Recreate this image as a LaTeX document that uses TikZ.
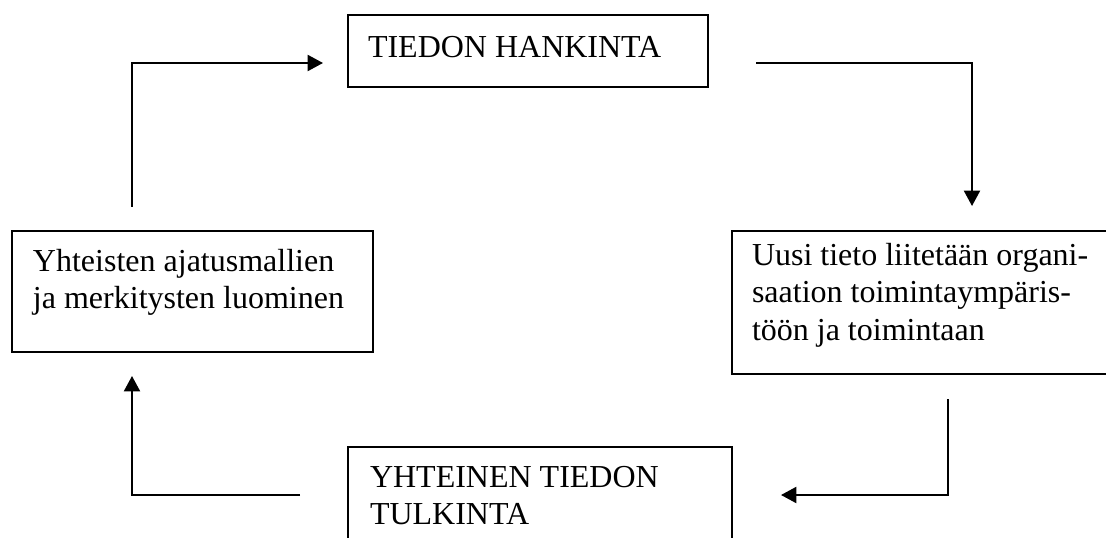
\documentclass[tikz,border=0pt]{standalone}
\usepackage{fontspec}
\setmainfont{Liberation Serif}
\usetikzlibrary{arrows.meta}
\newcommand\bxtext[5]{\parbox[t][#2][t]{#1}{\leftskip=#3\relax\parindent=0pt\vspace*{#4}\strut #5}}
\tikzset{
  procbox/.style={draw=black, line width=1.5pt, inner sep=0pt, outer sep=0pt, anchor=north west},
  flow/.style={line width=1.5pt, -{Triangle[length=11.5pt,width=12pt]}},
}
\begin{document}
\begin{tikzpicture}[x=0.75pt,y=-0.75pt,font=\fontsize{24}{28}\selectfont]
\clip (0,0) rectangle (1106,538);
\fill[white] (0,0) rectangle (1106,538);
% boxes
\node[procbox] (top) at (348,15) {\bxtext{270pt}{54pt}{15pt}{12.5pt}{TIEDON HANKINTA}};
\node[procbox] (left) at (12,231) {\bxtext{270.75pt}{90.75pt}{15.75pt}{10.6pt}{Yhteisten ajatusmallien\\ja merkitysten luominen}};
\node[procbox] (right) at (732,231) {\bxtext{291pt}{107.25pt}{15pt}{6.2pt}{Uusi tieto liitetään organi-\\saation toimintaympäris-\\töön ja toimintaan}};
\node[procbox] (bottom) at (348,447) {\bxtext{288pt}{90pt}{16.5pt}{10.6pt}{YHTEINEN TIEDON\\TULKINTA}};
% connector ends
\coordinate (ls) at (132,207);
\coordinate (lc) at (132,63);
\coordinate (le) at (323,63);
\coordinate (ts) at (756,63);
\coordinate (tc) at (972,63);
\coordinate (te) at (972,206);
\coordinate (rs) at (948,399);
\coordinate (rc) at (948,495);
\coordinate (re) at (781,495);
\coordinate (bs) at (300,495);
\coordinate (bc) at (132,495);
\coordinate (be) at (132,376);
% connectors
\draw[flow] (ls) -- (lc) -- (le);
\draw[flow] (ts) -- (tc) -- (te);
\draw[flow] (rs) -- (rc) -- (re);
\draw[flow] (bs) -- (bc) -- (be);
\end{tikzpicture}
\end{document}
